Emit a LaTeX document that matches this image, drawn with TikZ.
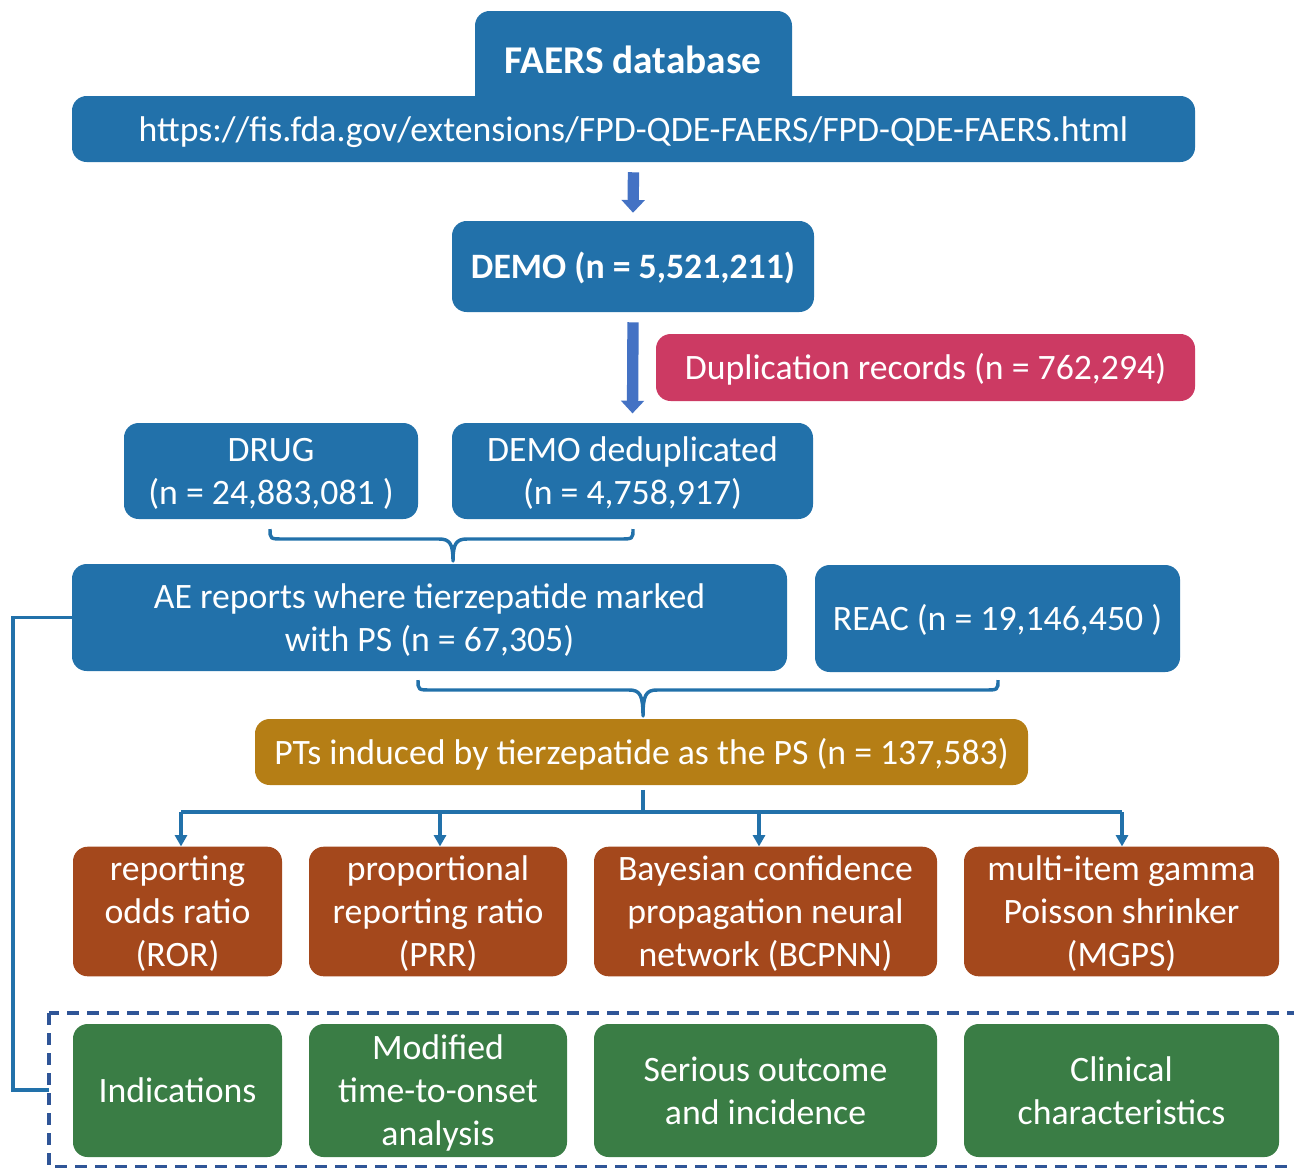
\documentclass[tikz,border=0pt]{standalone}
\usepackage{fontspec}
\setmainfont{Carlito}
\usetikzlibrary{arrows.meta,calc}
\definecolor{cblue}{HTML}{2271AA}
\definecolor{cdup}{HTML}{CC3A63}
\definecolor{cgold}{HTML}{B57E15}
\definecolor{corange}{HTML}{A4481C}
\definecolor{cgreen}{HTML}{3A7D45}
\definecolor{carrow}{HTML}{4472C4}
\definecolor{cdash}{HTML}{2F5597}
\newcommand{\fs}{\rule{0pt}{25.5pt}}
\tikzset{
  box/.style={rounded corners=11pt, inner sep=0pt, align=center, text=white,
    font=\fontsize{26.8}{32.25}\selectfont,
    execute at end node={\rule[-7.2pt]{0pt}{0pt}}},
  wh/.style 2 args={minimum width=0.75*#1 pt, minimum height=0.75*#2 pt},
  bluebox/.style={box, fill=cblue},
  dupbox/.style={box, fill=cdup},
  goldbox/.style={box, fill=cgold},
  orangebox/.style={box, fill=corange},
  greenbox/.style={box, fill=cgreen},
  blockarrow/.style={draw=carrow, line width=8.5pt, -{Triangle[length=9.5pt, width=17pt]}},
  bracepath/.style={draw=cblue, line width=2.6pt, line join=round},
  treeline/.style={draw=cblue, line width=2.5pt},
  treearrow/.style={draw=cblue, line width=2.5pt, -{Triangle[length=8.5pt, width=9pt]}},
  dashbox/.style={draw=cdash, line width=2.6pt, dash pattern=on 9pt off 6pt},
}
\newcommand{\mybrace}[6]{% left x, right x, tip x, top y, mid y, tip y
  \path[bracepath] (#1,#4) .. controls (#1,#5) .. (#1+14,#5) -- (#3-14,#5)
    .. controls (#3-3,#5) and (#3,#5+5) .. (#3,#6)
    .. controls (#3,#5+5) and (#3+3,#5) .. (#3+14,#5) -- (#2-14,#5)
    .. controls (#2,#5) .. (#2,#4);}
\begin{document}
\begin{tikzpicture}[x=0.75pt, y=-0.75pt]
\useasboundingbox (0,0) rectangle (1294,1167);
\begin{scope}
\clip (0,0) rectangle (1294,1167);
% dashed box
\draw[dashbox] (49,1013) rectangle (1320,1167);
% FAERS tab
\fill[cblue, rounded corners=11pt] (475,130) -- (475,11) -- (792,11) -- (792,130) -- cycle;
\node[text=white, font=\bfseries\fontsize{29.5}{34}\selectfont] (faers) at (633,60) {FAERS database};
\node[bluebox, wh={1123}{66}] (url) at (633.5,129) {\fs https://fis.fda.gov/extensions/FPD-QDE-FAERS/FPD-QDE-FAERS.html};
\node[bluebox, wh={362}{91}, font=\bfseries\fontsize{26.8}{32.25}\selectfont] (demo) at (633,266.5) {\fs DEMO (n = 5,521,211)};
\node[dupbox, wh={539}{67}] (dup) at (925.5,367.5) {\fs Duplication records (n = 762,294)};
\node[bluebox, wh={294}{96}] (drug) at (271,471) {\fs DRUG\\(n = 24,883,081 )};
\node[bluebox, wh={361}{96}] (dedup) at (632.5,471) {\fs DEMO deduplicated\\(n = 4,758,917)};
\node[bluebox, wh={715}{107}] (ae) at (429.5,617.5) {\fs AE reports where tierzepatide marked\\with PS (n = 67,305)};
\node[bluebox, wh={365}{107}] (reac) at (997.5,618.5) {\fs REAC (n = 19,146,450 )};
\node[goldbox, wh={773}{66}] (pts) at (641.5,752) {\fs PTs induced by tierzepatide as the PS (n = 137,583)};
% methods
\node[orangebox, wh={209}{127}] (m1) at (177.5,911.5) {\fs reporting\\odds ratio\\(ROR)};
\node[orangebox, wh={258}{127}] (m2) at (438,911.5) {\fs proportional\\reporting ratio\\(PRR)};
\node[orangebox, wh={343}{127}] (m3) at (765.5,911.5) {\fs Bayesian confidence\\propagation neural\\network (BCPNN)};
\node[orangebox, wh={315}{127}] (m4) at (1121.5,911.5) {\fs multi-item gamma\\Poisson shrinker\\(MGPS)};
% analyses
\node[greenbox, wh={209}{133}] (g1) at (177.5,1090.5) {\fs Indications};
\node[greenbox, wh={258}{133}] (g2) at (438,1090.5) {\fs Modified\\time-to-onset\\analysis};
\node[greenbox, wh={343}{133}] (g3) at (765.5,1090.5) {\fs Serious outcome\\and incidence};
\node[greenbox, wh={315}{133}] (g4) at (1121.5,1090.5) {\fs Clinical\\characteristics};
\coordinate (dashin) at (49,1090);
% block arrows
\draw[blockarrow] ([yshift=-7.5pt]url.south) -- ([yshift=6pt]demo.north);
\draw[blockarrow] ([yshift=-7.5pt]demo.south) -- ([yshift=7pt]dedup.north);
% braces
\mybrace{270}{633}{453}{529}{539}{561}
\mybrace{418}{998}{643}{680}{690}{716}
% tree
\coordinate (tj) at (643,812);
\draw[treeline] ([yshift=-3.5pt]pts.south -| tj) -- (tj);
\draw[treeline] (181,812) -- (1122,812);
\draw[treearrow] (181,812) -- (m1.north -| 181,0);
\draw[treearrow] (440,812) -- (m2.north -| 440,0);
\draw[treearrow] (759,812) -- (m3.north -| 759,0);
\draw[treearrow] (1122,812) -- (m4.north -| 1122,0);
% left connector
\draw[treeline] (ae.west) -- (13,617.5) -- (13,1090) -- (dashin);
\end{scope}
\end{tikzpicture}
\end{document}
